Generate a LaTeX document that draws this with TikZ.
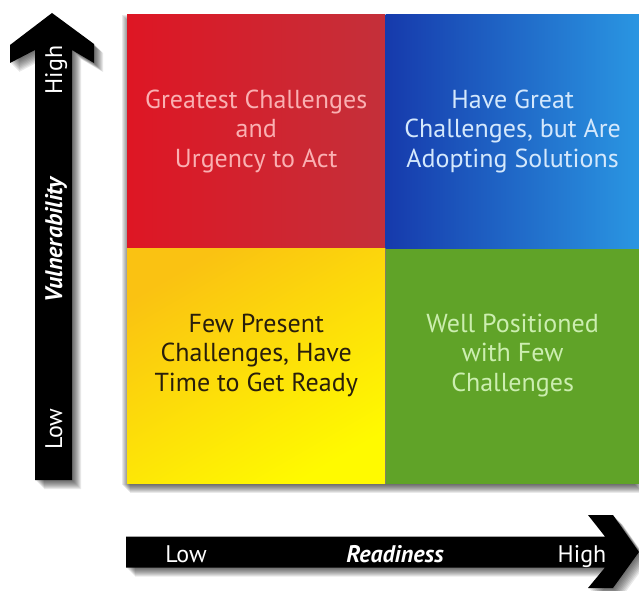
\documentclass[tikz,border=0pt]{standalone}
\usepackage{fontspec}
\setmainfont{PT Sans}
\usetikzlibrary{positioning,backgrounds}
\definecolor{redLeft}{RGB}{222,22,36}
\definecolor{redRight}{RGB}{196,48,58}
\definecolor{blueLeft}{RGB}{22,58,172}
\definecolor{blueRight}{RGB}{42,150,226}
\definecolor{yellowTop}{RGB}{250,194,18}
\definecolor{yellowBottom}{RGB}{255,250,0}
\definecolor{greenFill}{RGB}{96,163,40}
\definecolor{redText}{RGB}{250,176,178}
\definecolor{blueText}{RGB}{212,232,252}
\definecolor{yellowText}{RGB}{40,30,12}
\definecolor{greenText}{RGB}{204,238,176}
\tikzset{%
  base/.style = {rectangle, inner sep=0pt, minimum height=234pt},
  quadrantLeft/.style = {base, minimum width=258pt},
  quadrantRight/.style = {base, minimum width=254pt},
  quadText/.style = {align=center, font=\fontsize{26}{29.5}\selectfont},
  shadowLayer/.style = {preaction={fill=black, fill opacity=0.085,
      transform canvas={shift={(#1)}}}},
  softShadow/.style = {shadowLayer={1pt,-1pt}, shadowLayer={2pt,-2pt},
      shadowLayer={3pt,-3pt}, shadowLayer={4pt,-4pt}, shadowLayer={5pt,-5pt},
      shadowLayer={6pt,-6pt}, shadowLayer={7pt,-7pt}, shadowLayer={8pt,-8pt},
      shadowLayer={9pt,-9pt}},
  axisArrow/.style = {fill=black, softShadow},
  axisText/.style = {text=white, inner sep=0pt, anchor=base,
      font=\fontsize{24}{28}\selectfont},
  axisTitle/.style = {axisText, font=\fontsize{24}{28}\selectfont\bfseries\itshape},
}
\begin{document}
\begin{tikzpicture}[x=1pt, y=1pt]
  \useasboundingbox (0,0) rectangle (639,590);
  % Specification of the four quadrants
  \node (urgency)        [quadrantLeft, anchor=north west,
                          left color=redLeft, right color=redRight] at (127,576) {};
  \node (adopting)       [quadrantRight, right=0pt of urgency,
                          left color=blueLeft, right color=blueRight] {};
  \node (getReady)       [quadrantLeft, below=0pt of urgency, minimum height=235pt,
                          top color=yellowTop, bottom color=yellowBottom,
                          shading angle=30] {};
  \node (wellPositioned) [quadrantRight, right=0pt of getReady, minimum height=235pt,
                          fill=greenFill] {};
  \begin{scope}[on background layer]
    \path[softShadow] ([xshift=-6pt]getReady.south west)
        rectangle ([xshift=-6pt]adopting.north east);
  \end{scope}
  % Texts of the quadrants
  \node (urgencyText)        [quadText, text=redText] at (urgency)
                             {Greatest Challenges\\and\\Urgency to Act};
  \node (adoptingText)       [quadText, text=blueText] at (adopting)
                             {Have Great\\Challenges, but Are\\Adopting Solutions};
  \node (getReadyText)       [quadText, text=yellowText, yshift=11pt] at (getReady)
                             {Few Present\\Challenges, Have\\Time to Get Ready};
  \node (wellPositionedText) [quadText, text=greenText, yshift=11pt] at (wellPositioned)
                             {Well Positioned\\with Few\\Challenges};
  % Vulnerability axis
  \path[axisArrow] (35,110) -- (35,540) -- (10,527) -- (10,545) -- (52,577)
      -- (94,546) -- (94,527) -- (72,540) -- (72,110) -- cycle;
  \node (vulnHigh)  [axisText, rotate=90]  at (62,520) {High};
  \node (vulnLabel) [axisTitle, rotate=90] at (62,350) {Vulnerability};
  \node (vulnLow)   [axisText, rotate=90]  at (62,161) {Low};
  % Readiness axis
  \path[axisArrow] (126,22.5) -- (126,53.5) -- (605,53.5) -- (588,75) -- (613,75)
      -- (639,38) -- (613,2) -- (588,2) -- (605,22.5) -- cycle;
  \node (readLow)   [axisText]  at (186,28) {Low};
  \node (readLabel) [axisTitle] at (395,28) {Readiness};
  \node (readHigh)  [axisText]  at (582,28) {High};
\end{tikzpicture}
\end{document}
